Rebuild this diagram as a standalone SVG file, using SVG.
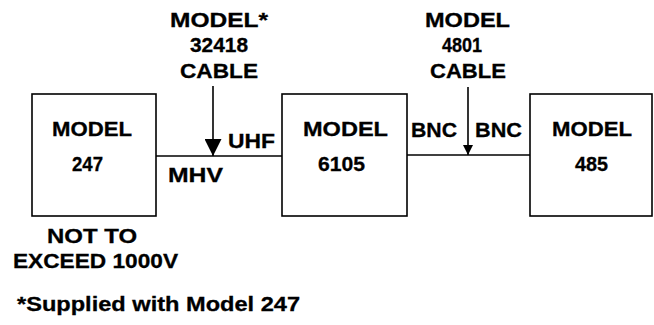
<svg xmlns="http://www.w3.org/2000/svg" width="654" height="325" viewBox="0 0 654 325">
<defs>
<style>
.box{fill:#fff;stroke:#000;stroke-width:1.6}
.ln{stroke:#000;stroke-width:1.6;fill:none}
text{font-family:"Liberation Sans",Arial,sans-serif;font-weight:bold;font-size:20px;fill:#000;stroke:#000;stroke-width:0.3}
</style>
<marker id="ah1" viewBox="0 0 10 10" refX="10" refY="5" markerWidth="17" markerHeight="17" markerUnits="userSpaceOnUse" orient="auto"><path d="M0,0L10,5L0,10Z" fill="#000"/></marker>
<marker id="ah2" viewBox="0 0 10 10" refX="10" refY="5" markerWidth="12" markerHeight="10" markerUnits="userSpaceOnUse" orient="auto"><path d="M0,0L10,5L0,10Z" fill="#000"/></marker>
</defs>
<rect width="654" height="325" fill="#fff"/>
<g id="connectors">
<line class="ln" x1="156" y1="156" x2="282" y2="156"/>
<line class="ln" x1="407" y1="155" x2="530" y2="155"/>
<line class="ln" x1="213" y1="86" x2="213" y2="156" marker-end="url(#ah1)"/>
<line class="ln" x1="468" y1="87" x2="468" y2="155" marker-end="url(#ah2)"/>
</g>
<g id="node-247">
<rect class="box" x="32" y="94" width="124" height="122"/>
<text x="52" y="136" textLength="80" lengthAdjust="spacingAndGlyphs">MODEL</text>
<text x="72" y="171" textLength="31" lengthAdjust="spacingAndGlyphs">247</text>
</g>
<g id="node-6105">
<rect class="box" x="282" y="94" width="125" height="122"/>
<text x="303" y="136" textLength="85" lengthAdjust="spacingAndGlyphs">MODEL</text>
<text x="318" y="171" textLength="47" lengthAdjust="spacingAndGlyphs">6105</text>
</g>
<g id="node-485">
<rect class="box" x="530" y="94" width="122" height="122"/>
<text x="552" y="136" textLength="80" lengthAdjust="spacingAndGlyphs">MODEL</text>
<text x="575" y="171" textLength="33" lengthAdjust="spacingAndGlyphs">485</text>
</g>
<g id="cable-32418">
<text x="170" y="27" textLength="98" lengthAdjust="spacingAndGlyphs">MODEL*</text>
<text x="190" y="52" textLength="58" lengthAdjust="spacingAndGlyphs">32418</text>
<text x="180" y="78" textLength="78" lengthAdjust="spacingAndGlyphs">CABLE</text>
</g>
<g id="cable-4801">
<text x="425" y="27" textLength="85" lengthAdjust="spacingAndGlyphs">MODEL</text>
<text x="442" y="52" textLength="40" lengthAdjust="spacingAndGlyphs">4801</text>
<text x="430" y="78" textLength="76" lengthAdjust="spacingAndGlyphs">CABLE</text>
</g>
<g id="labels">
<text x="228" y="148" textLength="47" lengthAdjust="spacingAndGlyphs">UHF</text>
<text x="168" y="182" textLength="55" lengthAdjust="spacingAndGlyphs">MHV</text>
<text x="411" y="137" textLength="46" lengthAdjust="spacingAndGlyphs">BNC</text>
<text x="475" y="137" textLength="47" lengthAdjust="spacingAndGlyphs">BNC</text>
<text x="47" y="243" textLength="90" lengthAdjust="spacingAndGlyphs">NOT TO</text>
<text x="13" y="268" textLength="165" lengthAdjust="spacingAndGlyphs">EXCEED 1000V</text>
<text x="17" y="311" textLength="283" lengthAdjust="spacingAndGlyphs">*Supplied with Model 247</text>
</g>
</svg>
